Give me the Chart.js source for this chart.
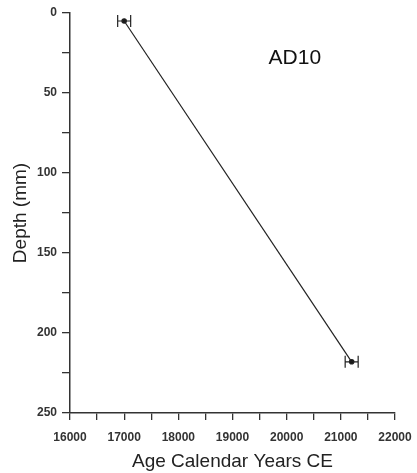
<!DOCTYPE html>
<html>
<head>
<meta charset="utf-8">
<script src="https://cdn.jsdelivr.net/npm/chart.js@4/dist/chart.umd.min.js"></script>
<style>
  html, body { margin: 0; padding: 0; background: #fff; }
  #wrap { width: 417px; height: 473px; }
</style>
</head>
<body>
<div id="wrap"><canvas id="agemodel"></canvas></div>
<script>
// dated samples: age (years) vs depth down the core
const ages = [17000, 21200];
const depths = [5, 218];
const ageErr = [120, 120];
const sampleName = "AD10";

const points = ages.map((a, i) => ({x: a, y: depths[i]}));

// horizontal age error bars with end caps
const errorBars = {
  id: 'errorBars',
  afterDatasetsDraw(chart) {
    const ctx = chart.ctx;
    const xs = chart.scales.x, ys = chart.scales.y;
    ctx.save();
    ctx.strokeStyle = '#222';
    ctx.lineWidth = 1.2;
    for (let i = 0; i < ages.length; i++) {
      const x0 = xs.getPixelForValue(ages[i] - ageErr[i]);
      const x1 = xs.getPixelForValue(ages[i] + ageErr[i]);
      const y = ys.getPixelForValue(depths[i]);
      ctx.beginPath();
      ctx.moveTo(x0, y); ctx.lineTo(x1, y);
      ctx.moveTo(x0, y - 6); ctx.lineTo(x0, y + 6);
      ctx.moveTo(x1, y - 6); ctx.lineTo(x1, y + 6);
      ctx.stroke();
    }
    ctx.restore();
  }
};

// sample label inside the plot
const sampleLabel = {
  id: 'sampleLabel',
  afterDraw(chart) {
    const ctx = chart.ctx;
    const x = chart.scales.x.getPixelForValue(20150);
    const y = chart.scales.y.getPixelForValue(28);
    ctx.save();
    ctx.fillStyle = '#111';
    ctx.font = '21px "Liberation Sans", Arial, sans-serif';
    ctx.textAlign = 'center';
    ctx.textBaseline = 'middle';
    ctx.fillText(sampleName, x, y);
    ctx.restore();
  }
};

const tickFont = {family: '"Liberation Sans", Arial, sans-serif', size: 12, weight: 'bold'};
const titleFont = {family: '"Liberation Sans", Arial, sans-serif', size: 19};

const ctx = document.getElementById('agemodel').getContext('2d');
new Chart(ctx, {
  type: 'scatter',
  data: {
    datasets: [{
      data: points,
      showLine: true,
      borderColor: '#222',
      borderWidth: 1.2,
      backgroundColor: '#111',
      pointRadius: 2.2,
      pointHoverRadius: 2.2,
    }]
  },
  options: {
    responsive: true,
    maintainAspectRatio: false,
    animation: false,
    layout: {padding: {top: 13, right: 22, left: 0, bottom: 0}},
    plugins: {
      legend: {display: false},
      tooltip: {enabled: false},
    },
    scales: {
      x: {
        type: 'linear',
        min: 16000,
        max: 22000,
        grid: {drawOnChartArea: false, drawTicks: true, tickLength: 7, color: '#333', lineWidth: 1.3},
        border: {display: true, color: '#333', width: 1.5},
        ticks: {
          stepSize: 500,
          autoSkip: false,
          maxRotation: 0,
          color: '#333',
          font: tickFont,
          padding: 10,
          callback: v => (v % 1000 === 0 ? String(v) : ''),
        },
        title: {display: true, text: 'Age Calendar Years CE', color: '#222', font: titleFont, padding: {top: 0, bottom: 0}},
        afterFit(scale) {
          scale.height = 60;
          // end labels may overhang; the layout padding leaves room for them
          scale.paddingLeft = 0;
          scale.paddingRight = 0;
        },
      },
      y: {
        type: 'linear',
        reverse: true,
        min: 0,
        max: 250,
        grid: {drawOnChartArea: false, drawTicks: true, tickLength: 8, color: '#333', lineWidth: 1.3},
        border: {display: true, color: '#333', width: 1.5},
        ticks: {
          stepSize: 25,
          autoSkip: false,
          color: '#333',
          font: tickFont,
          padding: 5,
          callback: v => (v % 50 === 0 ? String(v) : ''),
        },
        title: {display: true, text: 'Depth (mm)', color: '#222', font: titleFont, padding: {top: 9, bottom: 0}},
        afterFit(scale) { scale.width = 70; },
      }
    }
  },
  plugins: [errorBars, sampleLabel]
});
</script>
</body>
</html>
